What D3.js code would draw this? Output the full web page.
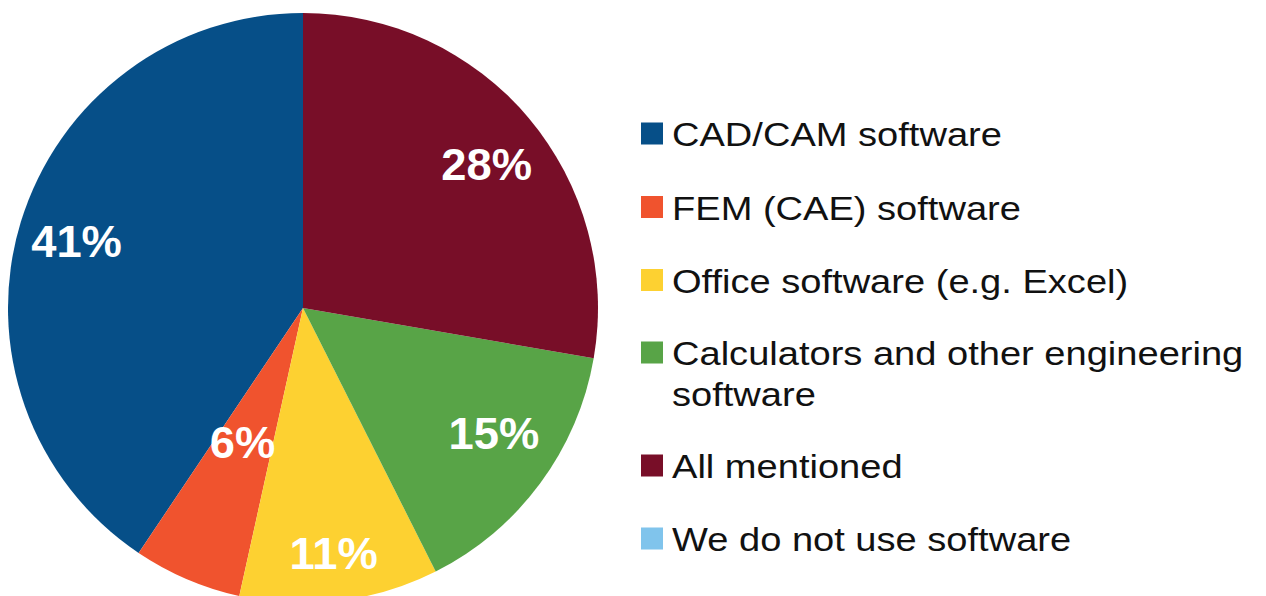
<!DOCTYPE html>
<html>
<head>
<meta charset="utf-8">
<script src="https://cdn.jsdelivr.net/npm/d3@7"></script>
<style>
  html, body { margin: 0; padding: 0; background: #ffffff; }
  svg { display: block; }
</style>
</head>
<body>
<svg id="chart" width="1266" height="596"></svg>
<script>
// Software used for engineering work (share of answers, %)
const categories = [
  "CAD/CAM software",
  "FEM (CAE) software",
  "Office software (e.g. Excel)",
  "Calculators and other engineering software",
  "All mentioned",
  "We do not use software"
];
const values = [41, 6, 11, 15, 28, 0];
const colors = ["#064f88", "#f0532e", "#fdd131", "#58a447", "#780e28", "#80c4ec"];
// legend text, wrapped the way it is shown
const legendLines = [
  ["CAD/CAM software"],
  ["FEM (CAE) software"],
  ["Office software (e.g. Excel)"],
  ["Calculators and other engineering", "software"],
  ["All mentioned"],
  ["We do not use software"]
];

const svg = d3.select("#chart");

// pie layout
const cx = 303, cy = 308, radius = 295;
// where each value label sits: fraction of the radius and a small angular nudge (degrees)
const labelRadiusFrac = [0.80, 0.50, 0.836, 0.773, 0.79, 0.78];
const labelAngleNudge = [-0.6, 1.0, 0, -3.4, 2.1, 0];
const labelStretch = 1.03;

const pie = d3.pie()
  .sort(null)
  .value(d => d.value)
  .startAngle(0)
  .endAngle(-2 * Math.PI);

const data = categories.map((c, i) => ({ category: c, value: values[i], color: colors[i], idx: i }));
const arcs = pie(data);

const arc = d3.arc().innerRadius(0).outerRadius(radius);

const g = svg.append("g").attr("transform", `translate(${cx},${cy})`);

g.selectAll("path.slice")
  .data(arcs.filter(a => a.data.value > 0))
  .join("path")
  .attr("class", "slice")
  .attr("d", arc)
  .attr("fill", d => d.data.color);

// percentage labels
g.selectAll("text.pct")
  .data(arcs.filter(a => a.data.value > 0))
  .join("text")
  .attr("class", "pct")
  .attr("transform", d => {
    const i = d.data.idx;
    const r = radius * labelRadiusFrac[i];
    const a = (d.startAngle + d.endAngle) / 2 + labelAngleNudge[i] * Math.PI / 180;
    const x = r * Math.sin(a), y = -r * Math.cos(a);
    return `translate(${x},${y}) scale(${labelStretch},1)`;
  })
  .attr("text-anchor", "middle")
  .attr("dy", "0.36em")
  .attr("font-family", "'Liberation Sans', Arial, sans-serif")
  .attr("font-weight", "bold")
  .attr("font-size", 44)
  .attr("fill", "#ffffff")
  .text(d => d.data.value + "%");

// legend
const legendX = 641, textX = 672;
const rowBaselines = [146, 219.5, 292.5, 365, 478, 551];
const lineHeight = 41;
const swatch = 22;
const legendStretch = 1.12;

const legend = svg.append("g").attr("class", "legend");
const rows = legend.selectAll("g.row")
  .data(data)
  .join("g")
  .attr("class", "row");

rows.append("rect")
  .attr("x", legendX)
  .attr("y", (d, i) => rowBaselines[i] - 23.5)
  .attr("width", swatch)
  .attr("height", swatch)
  .attr("fill", d => d.color);

rows.append("text")
  .attr("transform", (d, i) => `translate(${textX},${rowBaselines[i]}) scale(${legendStretch},1)`)
  .attr("font-family", "'Liberation Sans', Arial, sans-serif")
  .attr("font-size", 34)
  .attr("fill", "#111111")
  .selectAll("tspan")
  .data((d, i) => legendLines[i])
  .join("tspan")
  .attr("x", 0)
  .attr("dy", (t, j) => j === 0 ? 0 : lineHeight)
  .text(t => t);
</script>
</body>
</html>
